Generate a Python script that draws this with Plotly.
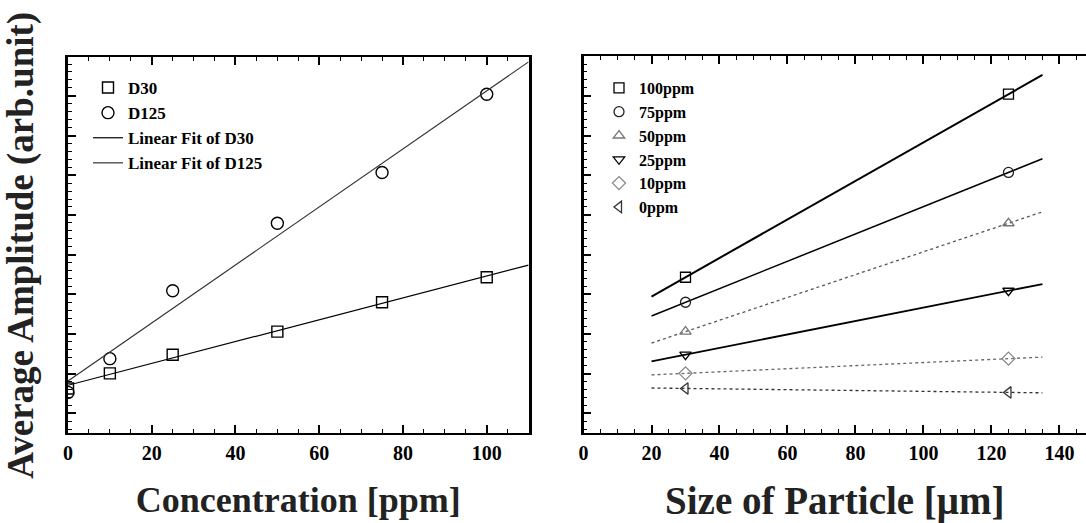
import numpy as np
import plotly.graph_objects as go

# ---------------- data ----------------
concentration = [0, 10, 25, 50, 75, 100]          # ppm
amp_d30 = [1.13, 1.51, 1.98, 2.56, 3.30, 3.93]     # arb. unit
amp_d125 = [1.03, 1.88, 3.59, 5.29, 6.57, 8.54]    # arb. unit
particle_size = [30, 125]                          # um
conc_labels = ["0ppm", "10ppm", "25ppm", "50ppm", "75ppm", "100ppm"]
left_fit_range = [0, 110]
right_fit_range = [20, 135]
x_ticks_left = [0, 20, 40, 60, 80, 100]
x_ticks_right = [0, 20, 40, 60, 80, 100, 120, 140]

FONT = "Liberation Serif"
W, H = 1086, 523

fig = go.Figure()

# ---------------- left panel ----------------
fig.add_trace(go.Scatter(
    x=concentration, y=amp_d30, mode="markers", name="D30",
    marker=dict(symbol="square-open", size=11, color="black", line=dict(width=1.4)),
    xaxis="x", yaxis="y", legend="legend"))
fig.add_trace(go.Scatter(
    x=concentration, y=amp_d125, mode="markers", name="D125",
    marker=dict(symbol="circle-open", size=12, color="black", line=dict(width=1.4)),
    xaxis="x", yaxis="y", legend="legend"))

for vals, name, col in [(amp_d30, "Linear Fit of D30", "black"),
                        (amp_d125, "Linear Fit of D125", "#333333")]:
    k, b = np.polyfit(concentration, vals, 1)
    xs = np.array(left_fit_range, dtype=float)
    fig.add_trace(go.Scatter(
        x=xs, y=k * xs + b, mode="lines", name=name,
        line=dict(color=col, width=1.2),
        xaxis="x", yaxis="y", legend="legend"))

# ---------------- right panel ----------------
symbols = {"100ppm": "square-open", "75ppm": "circle-open", "50ppm": "triangle-up-open",
           "25ppm": "triangle-down-open", "10ppm": "diamond-open", "0ppm": "triangle-left-open"}
mcolors = {"100ppm": "black", "75ppm": "#222222", "50ppm": "#777777",
           "25ppm": "black", "10ppm": "#888888", "0ppm": "#333333"}
lstyles = {"100ppm": ("black", 2.0, "solid"), "75ppm": ("black", 1.5, "solid"),
           "50ppm": ("#555555", 1.3, "dot"), "25ppm": ("black", 1.8, "solid"),
           "10ppm": ("#666666", 1.3, "dot"), "0ppm": ("#333333", 1.3, "dot")}

order = list(range(len(concentration)))[::-1]
for i in order:
    lab = conc_labels[i]
    ys = [amp_d30[i], amp_d125[i]]
    k, b = np.polyfit(particle_size, ys, 1)
    xs = np.array(right_fit_range, dtype=float)
    c, w, d = lstyles[lab]
    fig.add_trace(go.Scatter(
        x=xs, y=k * xs + b, mode="lines", showlegend=False,
        line=dict(color=c, width=w, dash=d),
        xaxis="x2", yaxis="y2", hoverinfo="skip"))
for i in order:
    lab = conc_labels[i]
    fig.add_trace(go.Scatter(
        x=particle_size, y=[amp_d30[i], amp_d125[i]], mode="markers", name=lab,
        marker=dict(symbol=symbols[lab], size=10, color=mcolors[lab], line=dict(width=1.3)),
        xaxis="x2", yaxis="y2", legend="legend2"))

# ---------------- axes ----------------
tickfont = dict(family=FONT, size=20, color="black", weight="bold")
titlefont = dict(family=FONT, size=37, color="#222222", weight="bold")

def xaxis_common(domain, rng, ticks, title, tsize):
    return dict(
        domain=domain, range=rng, tickmode="array", tickvals=ticks,
        ticks="inside", ticklen=8, tickwidth=1.5, tickcolor="black",
        minor=dict(ticks="inside", ticklen=4, tickwidth=1, dtick=5, tick0=0, tickcolor="black"),
        showline=True, linewidth=2, linecolor="black", mirror="ticks",
        showgrid=False, zeroline=False, tickfont=tickfont,
        ticklabelstandoff=1, automargin=False,
        title=dict(text=title, font=dict(titlefont, size=tsize), standoff=24))

def yaxis_common(domain, rng, mirror):
    return dict(
        domain=domain, range=rng, tick0=0.5, dtick=1,
        ticks="inside", ticklen=8, tickwidth=1.5, tickcolor="black",
        minor=dict(ticks="inside", ticklen=4, tickwidth=1, dtick=0.2, tick0=0.5, tickcolor="black"),
        showline=True, linewidth=2.5, linecolor="black", mirror=mirror,
        showgrid=False, zeroline=False, showticklabels=False, automargin=False)

legfont = dict(family=FONT, size=17, color="black", weight="bold")

fig.update_layout(
    width=W, height=H,
    margin=dict(l=0, r=0, t=0, b=0, autoexpand=False),
    paper_bgcolor="white", plot_bgcolor="white",
    showlegend=True,
    xaxis=xaxis_common([68 / W, 528.6 / W], [0, 110], x_ticks_left, "Concentration [ppm]", 36),
    yaxis=dict(yaxis_common([1 - 433.3 / H, 1 - 57.3 / H], [0, 9.47], True),
               title=dict(text="Average Amplitude (arb.unit)", font=titlefont, standoff=22)),
    xaxis2=xaxis_common([583.5 / W, 1.0], [0, 147.8], x_ticks_right, "Size of Particle [μm]", 39),
    yaxis2=dict(yaxis_common([1 - 433.3 / H, 1 - 55.7 / H], [0, 9.51], False), anchor="x2"),
    legend=dict(x=88 / W, y=1 - 70 / H, xanchor="left", yanchor="top",
                bgcolor="rgba(0,0,0,0)", font=legfont, tracegroupgap=0),
    legend2=dict(x=599 / W, y=1 - 71 / H, xanchor="left", yanchor="top",
                 bgcolor="rgba(0,0,0,0)", font=dict(legfont, size=16), tracegroupgap=0),
)
fig.update_layout(xaxis2=dict(anchor="y2"), xaxis=dict(anchor="y"), yaxis=dict(anchor="x"))

fig.write_html("out.html")
